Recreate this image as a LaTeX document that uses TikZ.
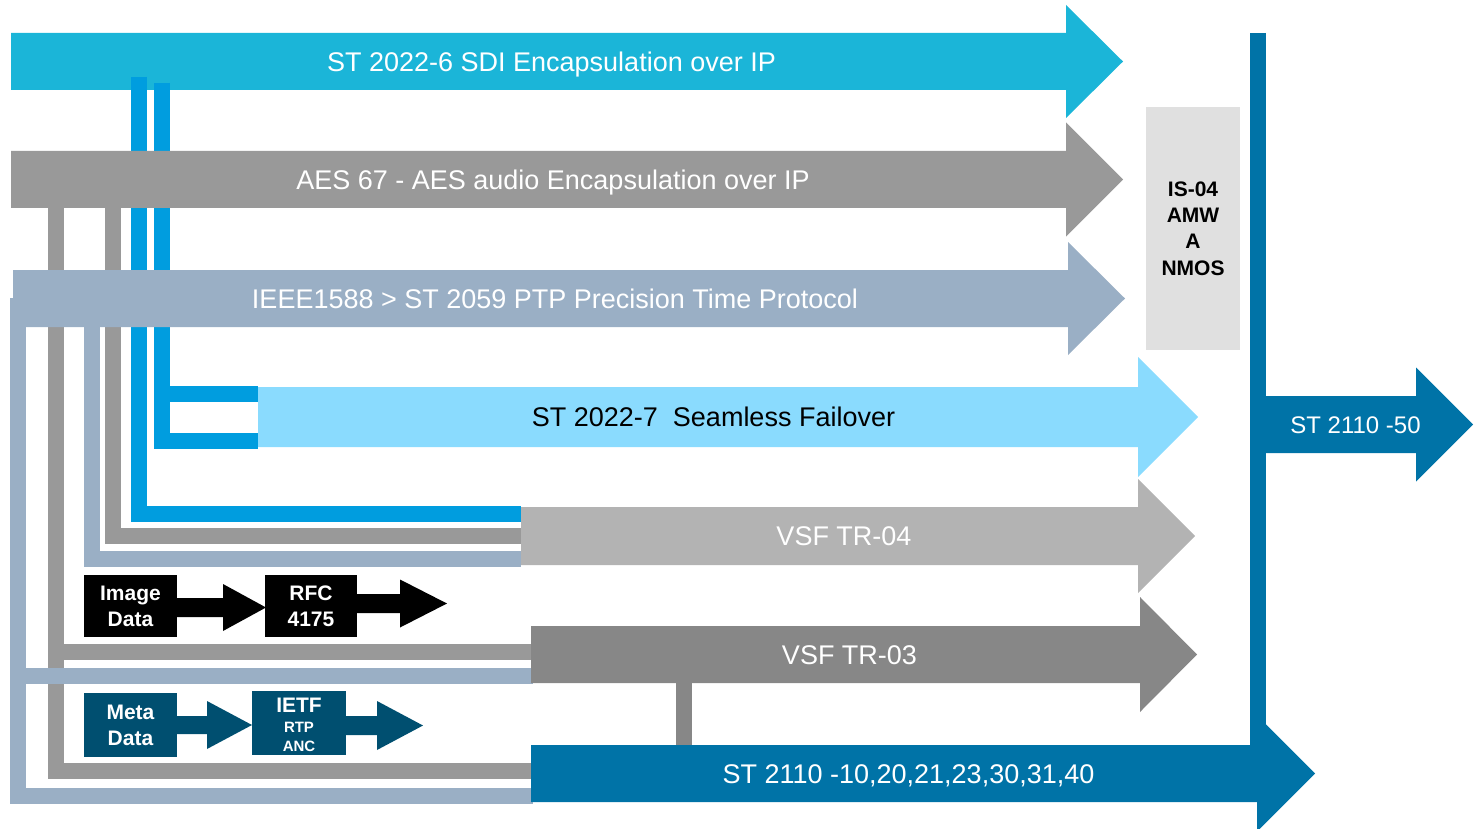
\documentclass[tikz,border=0pt]{standalone}
\usepackage{fontspec}
\setmainfont{Liberation Sans}
\usetikzlibrary{calc}
\definecolor{sdi}{HTML}{1BB5D8}
\definecolor{aes}{HTML}{999999}
\definecolor{ieee}{HTML}{9AAFC5}
\definecolor{sseven}{HTML}{8ADBFE}
\definecolor{trfour}{HTML}{B3B3B3}
\definecolor{trthree}{HTML}{878787}
\definecolor{stblue}{HTML}{0073A7}
\definecolor{bl}{HTML}{009DDF}
\definecolor{isbox}{HTML}{E0E0E0}
\definecolor{meta}{HTML}{004F70}
\tikzset{
  conn/.style={line width=16pt, line join=miter, line cap=butt},
  lbl/.style={inner sep=0pt, text height=19.3pt, text depth=0pt, font=\fontsize{27}{32}\selectfont},
  bbox/.style={inner sep=0pt, align=center, text=white, font=\bfseries\fontsize{21}{26}\selectfont},
}
% block arrow: colour, x start, y centre, x head start, body half height, head half height, tip x
\newcommand\barrow[7]{\fill[#1] (#2,#3-#5) -- (#4,#3-#5) -- (#4,#3-#6) -- (#7,#3) -- (#4,#3+#6) -- (#4,#3+#5) -- (#2,#3+#5) -- cycle;}
\begin{document}
\begin{tikzpicture}[x=1pt,y=-1pt]
\useasboundingbox (0,0) rectangle (1477,829);
\clip (0,0) rectangle (1477,829);
% top arrow
\barrow{sdi}{11}{61.5}{1066}{28.5}{56.5}{1123}
% connection points
\coordinate (sdiA) at (139,77);
\coordinate (sdiB) at (162,83);
\coordinate (s7t) at (258,394);
\coordinate (s7b) at (258,440.5);
\coordinate (t4a) at (521,514);
\coordinate (t4b) at (521,535.5);
\coordinate (t4c) at (521,558.5);
\coordinate (aesA) at (55.5,208);
\coordinate (aesB) at (113,208);
\coordinate (ieA) at (18,298);
\coordinate (ieB) at (92,327);
\coordinate (t3a) at (532,652);
\coordinate (t3b) at (533,676);
\coordinate (sta) at (532,771);
\coordinate (stb) at (533,796);
\coordinate (t3c) at (684,683);
\coordinate (stc) at (684,746);
\coordinate (barTop) at (1258,33);
\coordinate (barBot) at (1258,746);
% connectors
\draw[conn,bl] (sdiA) |- (t4a);
\draw[conn,bl] (sdiB) |- (s7b);
\draw[conn,bl] (sdiB |- s7t) -- (s7t);
\draw[conn,aes] (aesA) |- (sta);
\draw[conn,aes] (aesA |- t3a) -- (t3a);
\draw[conn,aes] (aesB) |- (t4b);
\draw[conn,ieee] (ieA) |- (stb);
\draw[conn,ieee] (ieA |- t3b) -- (t3b);
\draw[conn,ieee] (ieB) |- (t4c);
\draw[conn,trthree] (t3c) -- (stc);
% big arrows
\barrow{aes}{11}{179.5}{1066}{28.5}{57}{1123}
\barrow{ieee}{13}{298.5}{1068}{28.5}{56.5}{1125}
\barrow{sseven}{258}{417}{1138}{30}{60}{1198}
\barrow{trfour}{521}{536}{1138}{29}{57}{1195}
\barrow{trthree}{531}{654.5}{1140}{28.5}{57.5}{1197}
\barrow{stblue}{531}{773.5}{1257}{28.5}{58}{1315}
\draw[conn,stblue] (barTop) -- (barBot);
\barrow{stblue}{1266}{424.5}{1416}{28.5}{57}{1473}
% labels
\node[lbl,text=white] (tsdi) at (551.5,62) {ST 2022-6 SDI Encapsulation over IP};
\node[lbl,text=white] (taes) at (553,180) {AES 67 - AES audio Encapsulation over IP};
\node[lbl,text=white] (tieee) at (555,299) {IEEE1588 > ST 2059 PTP Precision Time Protocol};
\node[lbl,text=black] (ts7) at (713.5,417) {ST 2022-7\ \ Seamless Failover};
\node[lbl,text=white] (ttr4) at (844,536) {VSF TR-04};
\node[lbl,text=white] (ttr3) at (849.5,655) {VSF TR-03};
\node[lbl,text=white] (tst) at (908.5,774) {ST 2110 -10,20,21,23,30,31,40};
\node[lbl,text=white,font=\fontsize{24}{28}\selectfont,text height=17.2pt] (tst50) at (1355.5,425) {ST 2110 -50};
% IS-04 box
\node[fill=isbox, minimum width=94pt, minimum height=243pt, inner sep=0pt, align=center,
      font=\bfseries\fontsize{21}{26.3}\selectfont] (is04) at (1193,228.5) {IS-04\\AMW\\A\\NMOS};
% small boxes
\node[bbox, fill=black, minimum width=93pt, minimum height=62pt] (img) at (130.5,606) {Image\\Data};
\node[bbox, fill=black, minimum width=92pt, minimum height=62pt] (rfc) at (311,606) {RFC\\4175};
\node[bbox, fill=meta, minimum width=93pt, minimum height=64pt] (metad) at (130.5,725) {Meta\\Data};
\node[bbox, fill=meta, minimum width=94pt, minimum height=64pt] (ietf) at (299,723) {};
\node[inner sep=0pt, text=white, font=\bfseries\fontsize{21}{24}\selectfont, text height=15pt, text depth=0pt] (tietf) at (299,705) {IETF};
\node[inner sep=0pt, text=white, font=\bfseries\fontsize{15}{18}\selectfont, text height=10.8pt, text depth=0pt] (trtp) at (299,727) {RTP};
\node[inner sep=0pt, text=white, font=\bfseries\fontsize{15}{18}\selectfont, text height=10.8pt, text depth=0pt] (tanc) at (299,746) {ANC};
% small block arrows
\barrow{black}{177}{607.5}{223}{9.5}{23.5}{266}
\barrow{black}{357}{603.5}{400}{9.5}{24}{447}
\barrow{meta}{177}{725}{207}{9}{24}{252}
\barrow{meta}{346}{725.5}{377}{9.5}{24.5}{423}
\end{tikzpicture}
\end{document}
